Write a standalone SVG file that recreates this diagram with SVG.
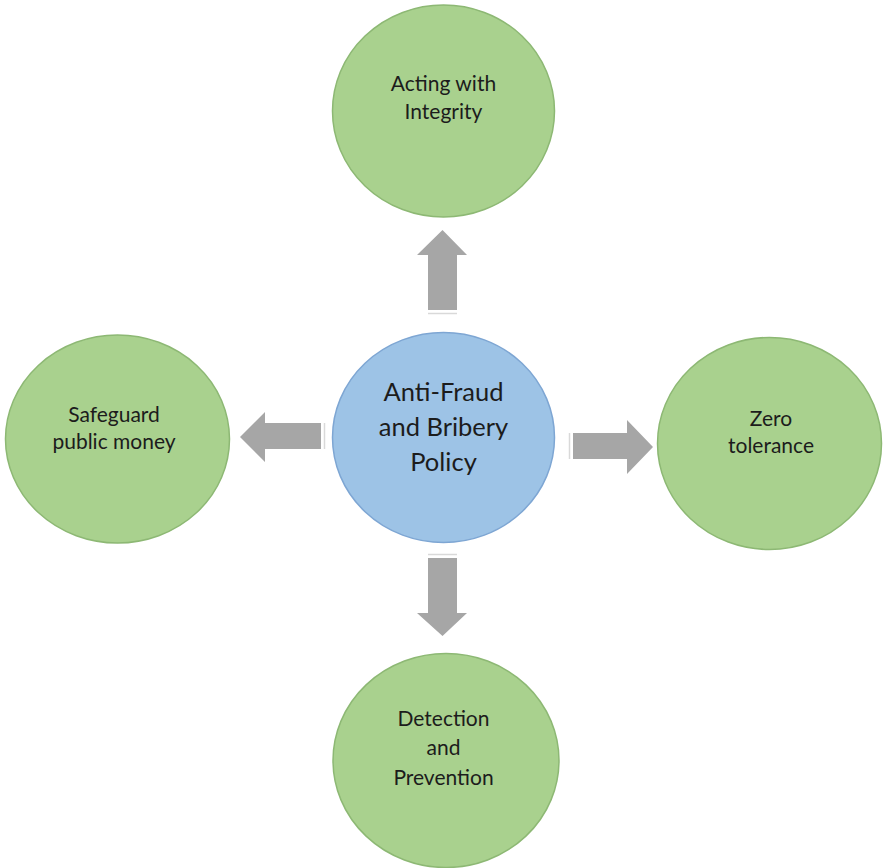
<svg xmlns="http://www.w3.org/2000/svg" width="883" height="868" viewBox="0 0 883 868">
<style>
.leaf{fill:#a9d18e;stroke:#8db874;stroke-width:1.5}
.hub{fill:#9dc3e6;stroke:#7ea6d3;stroke-width:1.5}
.arr{fill:#a6a6a6}
.seam{stroke:#d9d9d9;stroke-width:1.5;fill:none}
text{font-family:Lato,"Open Sans","Liberation Sans",sans-serif;fill:#1c1c1c;text-anchor:middle}
.s{font-size:21px}
.b{font-size:25.5px}
</style>
<rect width="883" height="868" fill="#ffffff"/>
<g id="connectors">
  <g id="arrow-up">
    <polygon class="arr" points="428,310 428,255 417,255 442.5,230 467,255 457,255 457,310"/>
    <line class="seam" x1="428" y1="313.5" x2="457" y2="313.5"/>
  </g>
  <g id="arrow-down">
    <polygon class="arr" points="428,558 457,558 457,613 467,613 442.5,636 417,613 428,613"/>
    <line class="seam" x1="428" y1="554.5" x2="457" y2="554.5"/>
  </g>
  <g id="arrow-left">
    <polygon class="arr" points="321,423 265,423 265,412 240,437 265,462 265,449 321,449"/>
    <line class="seam" x1="324.5" y1="423" x2="324.5" y2="449"/>
  </g>
  <g id="arrow-right">
    <polygon class="arr" points="573,433 627,433 627,420 653,447 627,474 627,459 573,459"/>
    <line class="seam" x1="569.5" y1="433" x2="569.5" y2="459"/>
  </g>
</g>
<g id="node-center">
  <ellipse class="hub" cx="443.5" cy="437.5" rx="111" ry="105"/>
  <text class="b" x="443.5" y="401">Anti-Fraud</text>
  <text class="b" x="443.5" y="436">and Bribery</text>
  <text class="b" x="443.5" y="471">Policy</text>
</g>
<g id="node-top">
  <ellipse class="leaf" cx="443.5" cy="111" rx="111" ry="106"/>
  <text class="s" x="443.5" y="91">Acting with</text>
  <text class="s" x="443.5" y="119">Integrity</text>
</g>
<g id="node-left">
  <ellipse class="leaf" cx="117.5" cy="439" rx="112" ry="104"/>
  <text class="s" x="114" y="422">Safeguard</text>
  <text class="s" x="114" y="449">public money</text>
</g>
<g id="node-right">
  <ellipse class="leaf" cx="769.5" cy="443.5" rx="112" ry="106"/>
  <text class="s" x="771" y="426">Zero</text>
  <text class="s" x="771" y="453">tolerance</text>
</g>
<g id="node-bottom">
  <ellipse class="leaf" cx="446" cy="760.5" rx="113" ry="107"/>
  <text class="s" x="443.5" y="726">Detection</text>
  <text class="s" x="443.5" y="755">and</text>
  <text class="s" x="443.5" y="785">Prevention</text>
</g>
</svg>
